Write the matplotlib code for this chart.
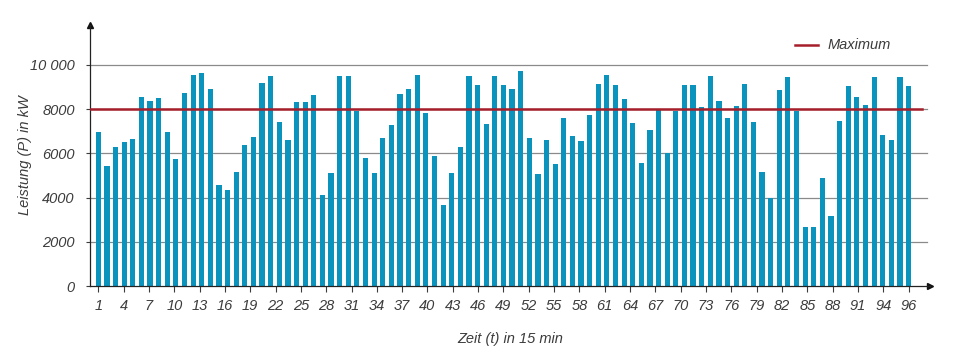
import numpy as np
import matplotlib
matplotlib.use("Agg")
import matplotlib.pyplot as plt

# ---- data ----
values = [6980, 5450, 6280, 6500, 6650, 8530, 8370, 8500, 6980, 5750,
          8720, 9530, 9630, 8900, 4550, 4350, 5180, 6370, 6740, 9200,
          9500, 7440, 6590, 8330, 8330, 8630, 4100, 5100, 9500, 9500,
          7930, 5770, 5100, 6710, 7300, 8710, 8900, 9530, 7830, 5870,
          3660, 5100, 6290, 9500, 9100, 7340, 9500, 9100, 8900, 9730,
          6680, 5060, 6590, 5520, 7610, 6780, 6550, 7740, 9140, 9530,
          9100, 8470, 7380, 5550, 7050, 7950, 6010, 7940, 9110, 9110,
          8110, 9500, 8370, 7590, 8140, 9150, 7420, 5140, 3970, 8870,
          9450, 7910, 2680, 2680, 4900, 3180, 7450, 9070, 8540, 8180,
          9460, 6820, 6620, 9460, 9070]
maximum = 8000
x_labels = ["1", "4", "7", "10", "13", "16", "19", "22", "25", "28", "31",
            "34", "37", "40", "43", "46", "49", "52", "55", "58", "61",
            "64", "67", "70", "73", "76", "79", "82", "85", "88", "91",
            "94", "96"]
y_ticks = [0, 2000, 4000, 6000, 8000, 10000]
y_labels = ["0", "2000", "4000", "6000", "8000", "10 000"]

# ---- style ----
FONT = ["Liberation Sans Narrow", "Liberation Sans", "DejaVu Sans"]
TXT = "#3c3c3c"
BAR = "#0a93bd"
RED = "#a61e2a"
GRID = "#8a8a8a"

W, H = 955, 351
fig = plt.figure(figsize=(W / 100, H / 100), dpi=100)
left_px, right_px, bottom_px, top_px = 90, 930, 286, 25
ax_w = right_px - left_px
ax = fig.add_axes([left_px / W, (H - bottom_px) / H,
                   ax_w / W, (bottom_px - top_px) / H])

n = len(values)
x = np.arange(1, n + 1)
step = 8.62  # px per bar
x0 = 1 - (98.3 - left_px) / step
x1 = 1 + (right_px - 98.3) / step
ymax = 10000 * (bottom_px - top_px) / (bottom_px - 65)
ax.set_xlim(x0, x1)
ax.set_ylim(0, ymax)

# grid lines
grid_end = 1 + (927 - 98.3) / step
for yv in y_ticks[1:]:
    ax.plot([x0, grid_end], [yv, yv], color=GRID, lw=0.9, zorder=1)

ax.bar(x, values, width=0.6, color=BAR, zorder=2)

red_end = 1 + (922 - 98.3) / step
ax.plot([x0, red_end], [maximum, maximum], color=RED, lw=1.8, zorder=3)

# spines / arrows
for s in ["top", "right"]:
    ax.spines[s].set_visible(False)
ax.spines["left"].set_color("#222222")
ax.spines["bottom"].set_color("#222222")
ax.spines["left"].set_linewidth(0.9)
ax.spines["bottom"].set_linewidth(0.9)
ax.plot(1, 0, ">", color="#111111", ms=4, transform=ax.get_yaxis_transform(), clip_on=False)
ax.plot(0, 1, "^", color="#111111", ms=4, transform=ax.get_xaxis_transform(), clip_on=False)

# ticks
ax.set_yticks(y_ticks)
ax.set_yticklabels(y_labels)
xt = np.linspace(1, n, len(x_labels))
ax.set_xticks(xt)
ax.set_xticklabels(x_labels)
ax.tick_params(axis="y", length=3, width=0.8, pad=8, colors=TXT, labelsize=10.5)
ax.tick_params(axis="x", length=4, width=0.8, pad=5, colors=TXT, labelsize=10.5)
for lab in ax.get_xticklabels() + ax.get_yticklabels():
    lab.set_family(FONT)
    lab.set_style("italic")
    lab.set_color(TXT)

ax.set_ylabel("Leistung (P) in kW", family=FONT, style="italic", color=TXT,
              fontsize=10.5)
ax.yaxis.set_label_coords((32 - left_px) / ax_w, 0.5)
ax.set_xlabel("Zeit (t) in 15 min", family=FONT, style="italic", color=TXT,
              fontsize=10.5, labelpad=14)

# legend
fig.lines.append(matplotlib.lines.Line2D([795 / W, 818 / W], [(H - 45) / H] * 2,
                                         color=RED, lw=1.8, transform=fig.transFigure))
fig.text(828 / W, (H - 45) / H, "Maximum", family=FONT, style="italic", color=TXT,
         fontsize=10.5, va="center", ha="left")

fig.savefig("out.png", dpi=100)
